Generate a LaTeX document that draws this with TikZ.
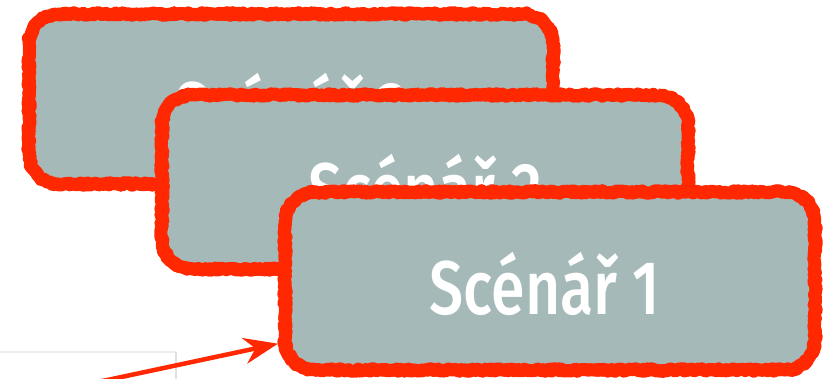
\documentclass[tikz,border=0pt]{standalone}
\usepackage{fontspec}
\setmainfont{Fira Sans}
\newfontfamily\scfont{Fira Sans Medium}
\usetikzlibrary{decorations.pathmorphing,arrows.meta}
\definecolor{boxfill}{HTML}{A5B9B9}
\definecolor{scred}{HTML}{FF2800}
\begin{document}
\begin{tikzpicture}[x=1pt,y=-1pt,
  scen/.style 2 args={rectangle, rounded corners=30pt, fill=boxfill,
    minimum width=#1, minimum height=#2, inner sep=0pt,
    postaction={draw=scred, line width=13pt, line join=round, sharp corners,
      decorate, decoration={random steps, segment length=2pt, amplitude=1.3pt}},
    postaction={draw=scred, line width=9pt, line join=round, sharp corners,
      decorate, decoration={random steps, segment length=3pt, amplitude=2.8pt}}},
  txt/.style={text=white, font=\scfont\fontsize{76}{80}\selectfont, inner sep=0pt,
    anchor=base, xscale=0.8},
  pointer/.style={draw=scred, line width=4.5pt, -{Stealth[length=34pt,width=26pt]}},
  frame/.style={draw=black!7, line width=1.5pt}]
\pgfmathsetseed{7}
\useasboundingbox (0,0) rectangle (834,379);
\clip (0,0) rectangle (834,379);
% faint frame at the bottom left
\coordinate (fa) at (0,352);
\coordinate (fb) at (176,352);
\coordinate (fc) at (176,380);
\draw[frame] (fa) -- (fb);
\draw[frame, draw=black!12, line width=2.5pt] (fb) -- (fc);
% boxes, back to front
\node[scen={524pt}{170pt}] (b3) at (291,99) {};
\node[txt] (t3) at (292,136) {Scénář 3};
\node[scen={526pt}{174pt}] (b2) at (425,182) {};
\node[txt] (t2) at (425,217) {Scénář 2};
\node[scen={530pt}{178pt}] (b1) at (550,281) {};
\node[txt] (t1) at (545,314) {Scénář 1};
% arrow
\coordinate (as) at (98,382);
\draw[pointer, shorten >=7pt] (as) -- (b1.193);
\end{tikzpicture}
\end{document}
